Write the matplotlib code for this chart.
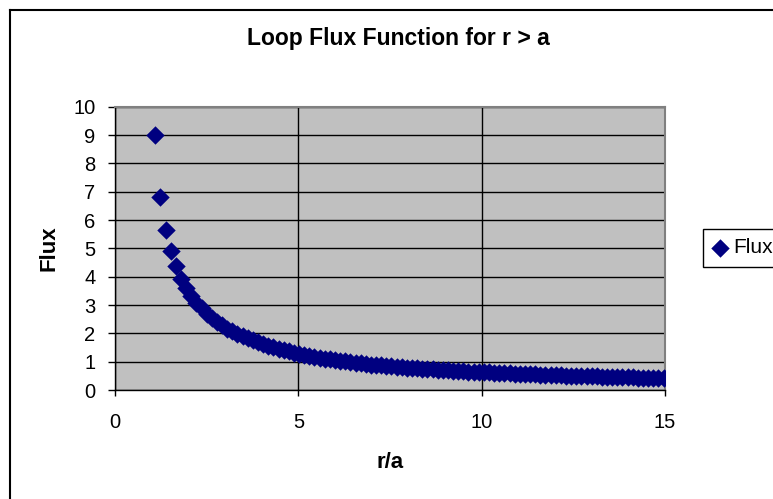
import matplotlib
matplotlib.use("Agg")
import matplotlib.pyplot as plt
from matplotlib.lines import Line2D

# r/a values and flux values
r_over_a = [
    1.10, 1.24, 1.38, 1.52, 1.66, 1.80, 1.94, 2.08, 2.22, 2.36,
    2.50, 2.64, 2.78, 2.92, 3.06, 3.20, 3.34, 3.48, 3.62, 3.76,
    3.90, 4.04, 4.18, 4.32, 4.46, 4.60, 4.74, 4.88, 5.02, 5.16,
    5.30, 5.44, 5.58, 5.72, 5.86, 6.00, 6.14, 6.28, 6.42, 6.56,
    6.70, 6.84, 6.98, 7.12, 7.26, 7.40, 7.54, 7.68, 7.82, 7.96,
    8.10, 8.24, 8.38, 8.52, 8.66, 8.80, 8.94, 9.08, 9.22, 9.36,
    9.50, 9.64, 9.78, 9.92, 10.06, 10.20, 10.34, 10.48, 10.62, 10.76,
    10.90, 11.04, 11.18, 11.32, 11.46, 11.60, 11.74, 11.88, 12.02, 12.16,
    12.30, 12.44, 12.58, 12.72, 12.86, 13.00, 13.14, 13.28, 13.42, 13.56,
    13.70, 13.84, 13.98, 14.12, 14.26, 14.40, 14.54, 14.68, 14.82, 14.96,
]
flux = [
    9.00, 6.80, 5.65, 4.90, 4.36, 3.93, 3.59, 3.32, 3.08, 2.88,
    2.70, 2.55, 2.41, 2.29, 2.17, 2.07, 1.98, 1.90, 1.82, 1.75,
    1.68, 1.62, 1.56, 1.51, 1.46, 1.41, 1.36, 1.32, 1.28, 1.24,
    1.21, 1.17, 1.14, 1.11, 1.09, 1.06, 1.03, 1.01, 0.98, 0.96,
    0.94, 0.92, 0.90, 0.89, 0.87, 0.85, 0.84, 0.82, 0.81, 0.79,
    0.78, 0.77, 0.75, 0.74, 0.73, 0.72, 0.70, 0.69, 0.68, 0.67,
    0.66, 0.65, 0.64, 0.63, 0.63, 0.62, 0.61, 0.60, 0.59, 0.59,
    0.58, 0.57, 0.56, 0.56, 0.55, 0.54, 0.54, 0.53, 0.52, 0.52,
    0.51, 0.51, 0.50, 0.49, 0.49, 0.48, 0.48, 0.47, 0.47, 0.46,
    0.46, 0.45, 0.45, 0.45, 0.44, 0.44, 0.43, 0.43, 0.42, 0.42,
]
x_ticks = [0, 5, 10, 15]
y_ticks = list(range(0, 11))

plt.rcParams['font.family'] = ['Liberation Sans', 'DejaVu Sans']

W, H = 773, 499
fig = plt.figure(figsize=(W / 100, H / 100), dpi=100)
fig.patch.set_facecolor('white')

# outer chart border: only the left and top edges fall inside the image
fig.add_artist(Line2D([9.5 / W, 9.5 / W], [0, 1 - 10 / H], transform=fig.transFigure,
                      color='black', linewidth=1.5))
fig.add_artist(Line2D([9.5 / W, 1], [1 - 10 / H, 1 - 10 / H], transform=fig.transFigure,
                      color='black', linewidth=1.5))

ax = fig.add_axes([115 / W, 1 - 390 / H, 550 / W, 283.3 / H])
ax.set_facecolor('#C0C0C0')
ax.scatter(r_over_a, flux, marker='D', s=88, color='#000080', linewidths=0,
           zorder=3, label='Flux')

ax.set_xlim(0, 15)
ax.set_ylim(0, 10)
ax.set_xticks(x_ticks)
ax.set_yticks(y_ticks)
ax.grid(True, color='black', linewidth=1)
ax.set_axisbelow(True)
ax.tick_params(axis='x', direction='out', length=4.3, width=1, pad=12, labelsize=14.5)
ax.tick_params(axis='y', direction='out', length=5, width=1, pad=9, labelsize=14.5)
for side in ('left', 'bottom'):
    ax.spines[side].set_color('black')
    ax.spines[side].set_linewidth(1)
for side in ('top', 'right'):
    ax.spines[side].set_color('#808080')
    ax.spines[side].set_linewidth(1.5)

fig.text(398 / W, 1 - 38 / H, 'Loop Flux Function for r > a', ha='center', va='center',
         fontsize=16.5, fontweight='bold')
fig.text(390 / W, 1 - 463 / H, 'r/a', ha='center', va='center', fontsize=16, fontweight='bold')
fig.text(49 / W, 1 - 248 / H, 'Flux', ha='center', va='center', rotation=90,
         fontsize=16, fontweight='bold')

leg = ax.legend(loc='upper left', bbox_to_anchor=(703 / W, 1 - 229 / H),
                bbox_transform=fig.transFigure, frameon=True, fancybox=False,
                edgecolor='black', framealpha=1, borderaxespad=0, borderpad=0.45,
                handlelength=0.75, handletextpad=0.25, fontsize=15, scatterpoints=1,
                markerscale=1.0)
leg.get_frame().set_linewidth(1)

fig.savefig('out.png', dpi=100)
